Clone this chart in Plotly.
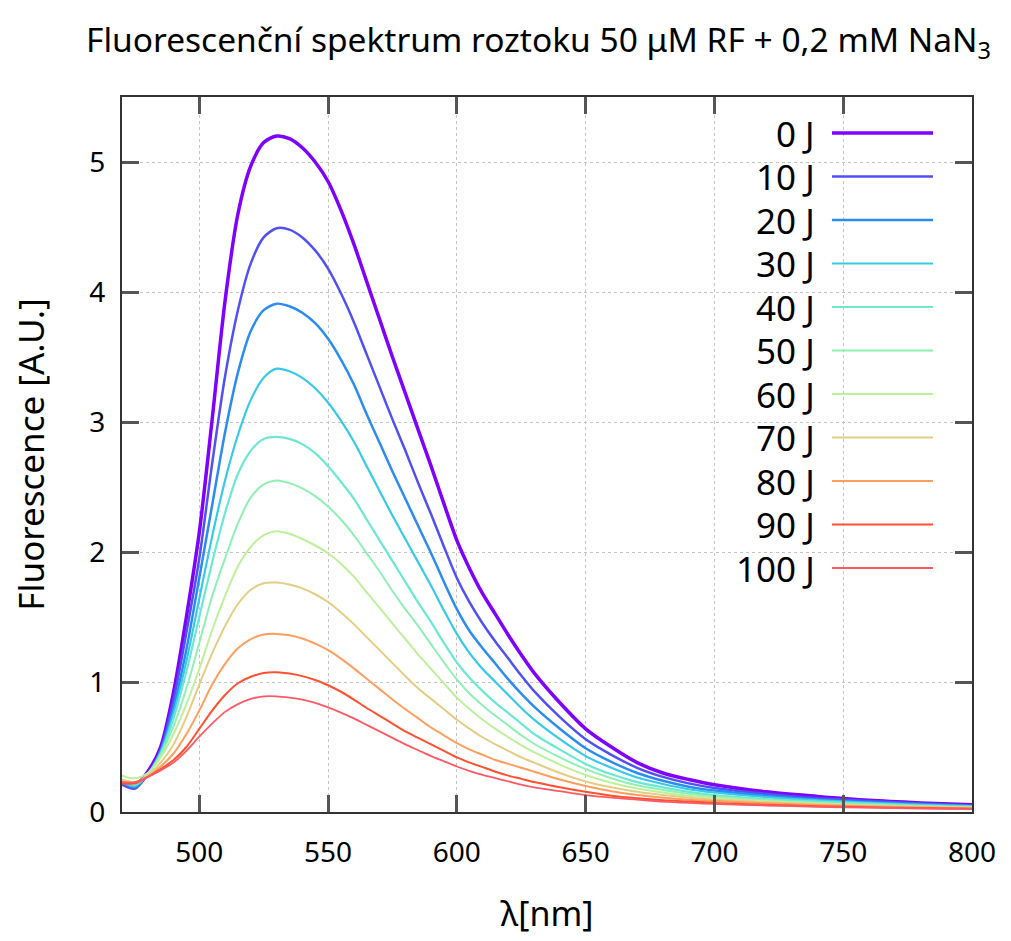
import plotly.graph_objects as go

# Emission wavelengths (nm)
wavelength = [470, 475, 480, 485, 490, 495, 500, 505, 510, 515, 520, 525, 530, 535, 540,
              545, 550, 555, 560, 565, 570, 575, 580, 585, 590, 595, 600, 605, 610, 615,
              620, 625, 630, 640, 650, 660, 670, 680, 690, 700, 720, 740, 760, 780, 800]

# Fluorescence intensity (A.U.) after each irradiation dose
f_0J = [0.22, 0.20, 0.31, 0.50, 0.92, 1.50, 2.15, 3.02, 3.93, 4.60, 4.97, 5.15, 5.20, 5.18, 5.11,
        5.00, 4.85, 4.63, 4.37, 4.08, 3.79, 3.50, 3.22, 2.94, 2.66, 2.37, 2.09, 1.87, 1.68, 1.52,
        1.36, 1.21, 1.07, 0.84, 0.64, 0.50, 0.38, 0.30, 0.25, 0.21, 0.155, 0.12, 0.09, 0.07, 0.055]
f_10J = [0.21, 0.18, 0.29, 0.48, 0.86, 1.38, 1.95, 2.68, 3.35, 3.86, 4.22, 4.42, 4.49, 4.48, 4.42,
         4.32, 4.18, 3.99, 3.77, 3.52, 3.27, 3.02, 2.78, 2.53, 2.29, 2.04, 1.80, 1.61, 1.45, 1.31,
         1.18, 1.05, 0.93, 0.73, 0.56, 0.44, 0.34, 0.27, 0.22, 0.185, 0.14, 0.105, 0.085, 0.065, 0.05]
f_20J = [0.23, 0.19, 0.29, 0.47, 0.80, 1.25, 1.80, 2.36, 2.92, 3.38, 3.70, 3.86, 3.91, 3.89, 3.84,
         3.76, 3.64, 3.48, 3.29, 3.06, 2.84, 2.62, 2.41, 2.20, 1.99, 1.77, 1.56, 1.39, 1.26, 1.14,
         1.02, 0.91, 0.81, 0.64, 0.49, 0.385, 0.30, 0.24, 0.195, 0.165, 0.125, 0.095, 0.075, 0.06, 0.045]
f_30J = [0.23, 0.20, 0.29, 0.46, 0.76, 1.16, 1.64, 2.12, 2.55, 2.90, 3.17, 3.34, 3.41, 3.39, 3.34,
         3.26, 3.15, 3.01, 2.85, 2.66, 2.47, 2.28, 2.10, 1.92, 1.74, 1.55, 1.37, 1.22, 1.10, 1.00,
         0.90, 0.80, 0.71, 0.56, 0.43, 0.34, 0.265, 0.215, 0.175, 0.15, 0.115, 0.09, 0.07, 0.055, 0.045]
f_40J = [0.24, 0.21, 0.29, 0.45, 0.72, 1.08, 1.50, 1.92, 2.30, 2.60, 2.78, 2.87, 2.885, 2.87, 2.83,
         2.76, 2.66, 2.54, 2.41, 2.25, 2.09, 1.93, 1.77, 1.61, 1.46, 1.30, 1.15, 1.03, 0.93, 0.84,
         0.76, 0.68, 0.60, 0.48, 0.37, 0.29, 0.23, 0.19, 0.155, 0.13, 0.10, 0.08, 0.065, 0.05, 0.04]
f_50J = [0.24, 0.22, 0.29, 0.44, 0.66, 0.95, 1.30, 1.66, 1.95, 2.22, 2.42, 2.52, 2.55, 2.53, 2.49,
         2.43, 2.35, 2.25, 2.13, 1.99, 1.85, 1.70, 1.56, 1.43, 1.29, 1.15, 1.02, 0.91, 0.82, 0.74,
         0.665, 0.59, 0.525, 0.42, 0.33, 0.26, 0.205, 0.17, 0.14, 0.12, 0.09, 0.07, 0.055, 0.045, 0.035]
f_60J = [0.28, 0.26, 0.30, 0.42, 0.60, 0.83, 1.10, 1.40, 1.66, 1.89, 2.04, 2.13, 2.16, 2.14, 2.10,
         2.05, 1.99, 1.91, 1.81, 1.69, 1.57, 1.45, 1.33, 1.21, 1.10, 0.99, 0.88, 0.79, 0.71, 0.64,
         0.575, 0.515, 0.46, 0.365, 0.285, 0.225, 0.18, 0.15, 0.125, 0.108, 0.082, 0.065, 0.052, 0.042, 0.034]
f_70J = [0.25, 0.23, 0.28, 0.38, 0.52, 0.73, 0.98, 1.22, 1.43, 1.60, 1.71, 1.76, 1.765, 1.75, 1.72,
         1.675, 1.615, 1.535, 1.445, 1.345, 1.245, 1.145, 1.045, 0.95, 0.87, 0.79, 0.71, 0.64, 0.575, 0.52,
         0.47, 0.42, 0.38, 0.30, 0.235, 0.19, 0.155, 0.13, 0.11, 0.095, 0.075, 0.06, 0.048, 0.04, 0.032]
f_80J = [0.23, 0.22, 0.27, 0.35, 0.45, 0.60, 0.78, 0.98, 1.14, 1.26, 1.33, 1.365, 1.37, 1.36, 1.335,
         1.295, 1.245, 1.18, 1.105, 1.025, 0.945, 0.865, 0.79, 0.72, 0.65, 0.59, 0.53, 0.48, 0.44, 0.40,
         0.37, 0.34, 0.31, 0.25, 0.20, 0.16, 0.13, 0.11, 0.095, 0.085, 0.067, 0.053, 0.043, 0.035, 0.028]
f_90J = [0.22, 0.22, 0.27, 0.33, 0.40, 0.50, 0.64, 0.78, 0.90, 0.99, 1.04, 1.07, 1.075, 1.065, 1.045,
         1.015, 0.975, 0.925, 0.865, 0.80, 0.74, 0.68, 0.62, 0.57, 0.52, 0.47, 0.42, 0.38, 0.345, 0.31,
         0.28, 0.255, 0.23, 0.19, 0.155, 0.125, 0.105, 0.09, 0.08, 0.07, 0.055, 0.045, 0.037, 0.03, 0.025]
f_100J = [0.23, 0.23, 0.27, 0.32, 0.38, 0.47, 0.58, 0.68, 0.77, 0.83, 0.87, 0.89, 0.89, 0.88, 0.865,
          0.84, 0.805, 0.765, 0.72, 0.67, 0.62, 0.57, 0.52, 0.475, 0.43, 0.39, 0.35, 0.315, 0.285, 0.26,
          0.235, 0.21, 0.19, 0.16, 0.13, 0.11, 0.095, 0.08, 0.07, 0.062, 0.05, 0.04, 0.033, 0.027, 0.022]

labels = ["0 J", "10 J", "20 J", "30 J", "40 J", "50 J", "60 J", "70 J", "80 J", "90 J", "100 J"]
series = [f_0J, f_10J, f_20J, f_30J, f_40J, f_50J, f_60J, f_70J, f_80J, f_90J, f_100J]
colors = ["#8000ff", "#5050f5", "#2a8cf0", "#38c8e8", "#6ae8d2", "#8ff0b4",
          "#bdf09a", "#e6cc82", "#ff9e5e", "#ff5030", "#ff5a64"]
widths = [3.5, 2.5, 2.5, 2.2, 2.2, 2.0, 2.0, 2.0, 2.0, 2.0, 1.8]

FONT = "Noto Sans"
W, H = 1011, 941
L, R, T, B = 122, 39, 97, 129
PW, PH = W - L - R, H - T - B

fig = go.Figure()
for name, ys, col, w in zip(labels, series, colors, widths):
    fig.add_trace(go.Scatter(
        x=wavelength, y=ys, name=name, mode="lines",
        line=dict(color=col, width=w, shape="spline", smoothing=0.8),
        showlegend=False,
    ))

def px_x(px):
    return (px - L) / PW

def px_y(py):
    return (H - B - py) / PH

# Key: white panel, right-aligned labels followed by line samples
shapes = [dict(type="rect", xref="paper", yref="paper",
               x0=px_x(712), x1=px_x(968), y0=px_y(592), y1=px_y(100),
               fillcolor="white", line=dict(width=0), layer="between")]
annotations = []
for i, (name, col, w) in enumerate(zip(labels, colors, widths)):
    yy = px_y(133 + 43.5 * i)
    annotations.append(dict(text=name, xref="paper", yref="paper", x=px_x(817), y=yy,
                            xanchor="right", yanchor="middle", showarrow=False,
                            font=dict(family=FONT, size=35, color="black")))
    shapes.append(dict(type="line", xref="paper", yref="paper",
                       x0=px_x(832), x1=px_x(933), y0=yy, y1=yy,
                       line=dict(color=col, width=w), layer="above"))

axis_common = dict(
    showline=True, linecolor="#333333", linewidth=2, mirror="ticks",
    ticks="inside", ticklen=17, tickwidth=2.5, tickcolor="#555555",
    showgrid=True, gridcolor="#c4c4c4", gridwidth=1.2, griddash="dot",
    zeroline=False,
    tickfont=dict(family=FONT, size=28, color="black"),
)

fig.update_layout(
    width=W, height=H,
    margin=dict(l=L, r=R, t=T, b=B),
    paper_bgcolor="white", plot_bgcolor="white",
    title=dict(text="Fluorescenční spektrum roztoku 50 μM RF + 0,2 mM NaN<sub>3</sub>",
               x=86 / W, xanchor="left", xref="container",
               y=1 - 40 / H, yanchor="middle", yref="container",
               font=dict(family=FONT, size=33.5, color="black")),
    xaxis=dict(range=[470, 800], tickvals=[500, 550, 600, 650, 700, 750, 800],
               ticklabelstandoff=14,
               title=dict(text="λ[nm]", standoff=34,
                          font=dict(family=FONT, size=34, color="black")),
               **axis_common),
    yaxis=dict(range=[0, 5.5], tickvals=[0, 1, 2, 3, 4, 5],
               ticklabelstandoff=9,
               title=dict(text="Fluorescence [A.U.]", standoff=34,
                          font=dict(family=FONT, size=35, color="black")),
               **axis_common),
    shapes=shapes,
    annotations=annotations,
)

fig.write_html("out.html")
